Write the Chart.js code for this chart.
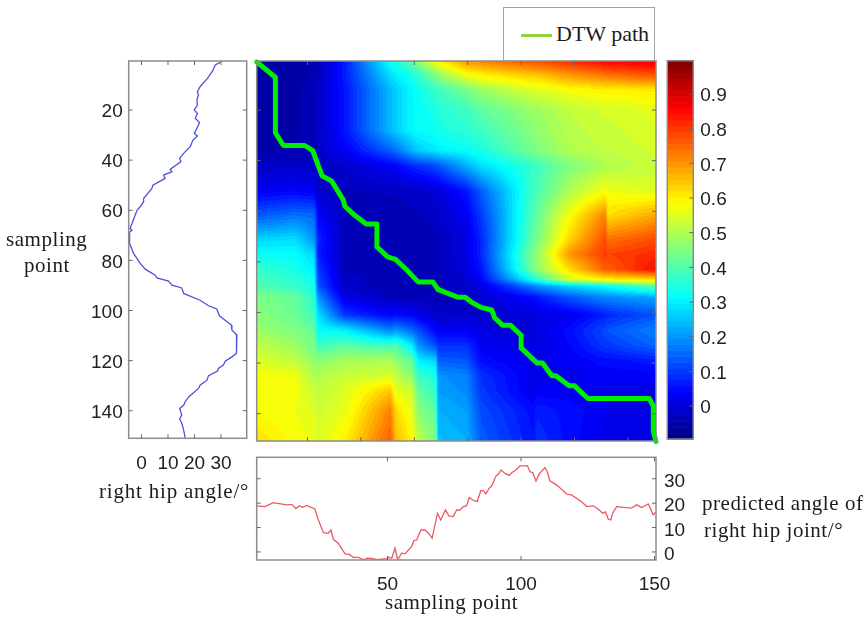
<!DOCTYPE html>
<html>
<head>
<meta charset="utf-8">
<script src="https://cdn.jsdelivr.net/npm/chart.js@4"></script>
<style>
html,body{margin:0;padding:0;background:#fff;width:865px;height:617px;overflow:hidden}
#stage{position:absolute;left:0;top:0;width:865px;height:617px;filter:blur(0.35px)}
canvas{position:absolute;left:0;top:0}
.t{position:absolute;font-family:"Liberation Serif",serif;font-size:21px;color:#1c1c1c;white-space:nowrap;line-height:24px;letter-spacing:.55px}
#legend{position:absolute;left:503px;top:7px;width:150px;height:52px;border:1px solid #a4a4a4;background:#fff}
#legend i{position:absolute;left:17px;top:26px;width:31px;height:3px;background:#8ed43c}
#legend span{position:absolute;left:52px;top:14px;font-family:"Liberation Serif",serif;font-size:22px;color:#1c1c1c;white-space:nowrap;line-height:24px}
</style>
</head>
<body>
<div id="stage">
<canvas id="left" width="865" height="617"></canvas>
<canvas id="heat" width="865" height="617"></canvas>
<canvas id="bottom" width="865" height="617"></canvas>
<canvas id="bar" width="865" height="617"></canvas>
<div id="legend"><i></i><span>DTW path</span></div>
<div class="t" style="left:6px;top:227px">sampling</div>
<div class="t" style="left:24px;top:253px">point</div>
<div class="t" style="left:99px;top:479px;letter-spacing:.8px">right hip angle/°</div>
<div class="t" style="left:702px;top:491px">predicted angle of</div>
<div class="t" style="left:704px;top:518px">right hip joint/°</div>
<div class="t" style="left:385px;top:590px">sampling point</div>
</div>
<script>
// ---- data ----
const leftSample = [1,2,4.3,7.4,10.7,12.7,14,16,18,20,21.3,23.3,25,28,29.3,30.4,32,34.6,37.3,39.3,40.6,43.7,44.6,46,47.3,50,51.3,55.3,56.6,58.6,60,62,65.3,67.3,68,69,73.3,77.2,81.2,83.5,85.9,87,88.3,89.9,91,93.2,95.9,98.1,99.4,102.1,105.8,107.8,109.8,113.1,117.1,118.5,120.2,121.8,123.1,124.2,126,127.8,129.8,131.1,134.5,136.4,137.8,139.1,141.7,143.3,145,147.7,150.8];
const leftAngle = [29.7,27.8,26.9,24.9,22.1,21.1,21.5,20.9,21.1,19.9,21.1,20.3,21.9,20.6,19.9,21.1,19.4,18.4,15.9,14.4,14.9,10.8,11.5,8.3,8.9,4.3,3.9,0.8,0.8,-0.5,-1.7,-2.4,-3.6,-4.3,-3.6,-4.7,-4.5,-3,-0.5,1.4,5.2,5.8,10.2,11.5,15.2,15.9,22.1,25.3,28.4,29.4,33.9,34.1,36,35.7,36,34.1,31.6,30.9,29,28.7,25.3,24.7,22.1,21.5,17.8,16.5,15.9,14.4,15.2,14.4,15.2,15.9,16.5];

const bottomSample = [1,4.1,7.2,12.2,14.1,15.7,17,18.2,19.7,22.8,24.1,26,27.8,28.8,29.7,31.6,34.1,35.7,37.2,39.1,41,42.5,44.7,46,50,50.3,51.6,52.8,53.8,55.3,56.5,59,59.9,60.9,62.5,64,65.2,66.7,68.7,69.9,71.7,73,74.6,75.9,77.1,78.4,79.6,80.6,81.9,83.6,84.9,85.9,86.8,88.1,89,90.6,91.5,92.5,94,95.6,96.5,98.1,99.6,102.4,103.4,104.4,105.6,106.8,109,109.8,110.8,113.3,117.3,118.9,122.7,124.6,127.1,128.9,130.6,131.6,132.7,133.6,134.3,135.8,138.3,141.4,143.3,145.2,147.7,149.5,150.4];
const bottomAngle = [18.9,18.6,20.2,19.3,19.5,17.8,18.9,18.3,19.1,17.6,13.1,7.9,7.6,9,5.2,3.5,-0.8,-1,-2.2,-2.2,-3.2,-2.5,-2.7,-3.2,-2.7,-2.2,-2.6,1.5,-3.2,-0.5,-0.8,2.2,4.7,4.9,9,9,7.9,5.6,15.9,13.1,17.2,14.8,14.5,17.2,17.2,18.6,18.9,22.3,21.3,20.6,25.1,25.1,23.8,26.1,27,31.1,31.8,33.6,32.2,31.4,32.5,33.6,35.3,35.3,32.9,32.5,29.1,32,34.6,32.9,29.2,27.5,23.6,23.4,20.6,18.6,18.9,17.5,15.9,16.4,13.4,13.1,15.9,18.6,18.3,18,19.3,18.2,19.7,15.2,16.3];

const pathRef = [1,8,8,11,19,22,23,25.5,29,33.4,34,37,42,46,46,50,53,57,61.5,67,69,76.5,79,81.5,85,89,90,93,96,100,100,106,108,111.5,113,118,120,125,148,149.5,149.5,150.5];
const pathTest = [1,7,29,34,34,36,39,46,48,55.5,58,61,65,65,74,78,79,83,88,88,91,94,94,96,98,99,102,105,105,109,114,120,120,125,125,129,129,134,134,137,147,151];

const heatX = [1,15.3,22.5,24,34,51,53,59,61.5,68,69,79.5,85,104.5,106,118,131.5,132.5,150.5];
const heatY = [0.6,6,12,20,28,36,42,52,61.5,71,77,83,87,89.5,94,101,107,113,119,125,131,138.5,150.8];
const heatValues = [
[-.06,-.055,-.04,-.03,.07,.33,.34,.42,.47,.58,.6,.7,.72,.78,.78,.82,.86,.87,.88],
[-.06,-.055,-.04,-.03,.07,.28,.3,.34,.37,.45,.47,.58,.6,.65,.65,.7,.74,.74,.78],
[-.06,-.05,-.03,-.02,.06,.24,.26,.31,.33,.37,.38,.44,.48,.55,.55,.58,.6,.6,.61],
[-.06,-.05,-.03,-.02,.06,.24,.26,.31,.32,.34,.35,.38,.41,.48,.48,.52,.54,.54,.56],
[-.06,-.05,-.03,-.02,.06,.24,.26,.31,.32,.33,.34,.36,.38,.46,.47,.51,.53,.53,.55],
[-.05,-.04,-.03,-.02,.03,.14,.16,.23,.26,.29,.3,.32,.34,.44,.45,.5,.52,.52,.54],
[-.02,-.02,-.02,-.02,-.01,.03,.04,.08,.09,.12,.13,.23,.28,.37,.38,.45,.5,.5,.53],
[.03,.04,.03,-.01,-.03,-.025,-.025,-.02,-.02,0,0,.06,.14,.38,.39,.5,.58,.57,.55],
[.13,.16,.15,.04,-.03,-.035,-.035,-.03,-.03,-.02,-.02,.03,.1,.4,.42,.58,.72,.62,.68],
[.27,.28,.2,.08,-.03,-.035,-.035,-.035,-.035,-.03,-.03,.01,.08,.42,.44,.63,.78,.74,.78],
[.32,.32,.27,.07,-.03,-.035,-.035,-.035,-.035,-.03,-.03,.01,.08,.45,.47,.7,.8,.79,.82],
[.37,.34,.3,.1,-.03,-.035,-.035,-.035,-.035,-.03,-.03,0,.06,.44,.47,.62,.76,.76,.85],
[.39,.36,.33,.12,-.02,-.035,-.035,-.035,-.035,-.03,-.03,-.01,.04,.33,.36,.54,.6,.6,.62],
[.4,.37,.34,.13,-.02,-.035,-.035,-.035,-.035,-.03,-.03,-.02,.01,.18,.2,.27,.32,.33,.42],
[.45,.42,.36,.2,.01,-.03,-.03,-.035,-.035,-.035,-.035,-.02,-.01,.05,.06,.13,.19,.19,.22],
[.46,.43,.38,.28,.1,.04,.05,.04,.02,-.01,-.02,-.01,-.01,0,.01,.02,.07,.08,.13],
[.48,.45,.42,.32,.3,.18,.2,.15,.12,.04,.03,.03,.01,0,.01,.05,.12,.13,.18],
[.52,.48,.44,.38,.41,.38,.4,.3,.2,.12,.09,.09,.03,.01,.01,.04,.1,.1,.15],
[.55,.52,.47,.46,.49,.5,.47,.42,.3,.27,.14,.13,.05,.02,.02,.03,.05,.05,.07],
[.58,.57,.5,.5,.53,.54,.52,.46,.38,.34,.2,.18,.09,.02,.02,.02,.03,.03,.03],
[.58,.58,.53,.52,.55,.65,.56,.54,.42,.37,.21,.19,.1,.02,.03,.03,.02,.02,.02],
[.58,.57,.55,.53,.56,.72,.63,.56,.46,.41,.23,.21,.12,.05,.07,.05,.03,.02,.02],
[.62,.58,.57,.55,.6,.76,.66,.6,.52,.45,.25,.23,.14,.06,.09,.05,.02,.01,.01]
];

const sampleTicks = [20,40,60,80,100,120,140];
const leftXTicks = [0,10,20,30];
const bottomXTicks = [50,100,150];
const bottomYTicks = [0,10,20,30];
const barTicks = [0,0.1,0.2,0.3,0.4,0.5,0.6,0.7,0.8,0.9];
const colorMin = -0.095, colorMax = 0.996;

// ---- helpers ----
const FONT = {family:'"Liberation Sans",Arial,sans-serif', size:19};
const TICK = '#222222', FRAME = '#8c8c8c';
function clamp(v){return Math.max(0,Math.min(1,v));}
function jet(v){
  let t = clamp((v-colorMin)/(colorMax-colorMin));
  t = (Math.min(63,Math.floor(t*64))+0.5)/64;
  return [clamp(1.5-Math.abs(4*t-3))*255, clamp(1.5-Math.abs(4*t-2))*255, clamp(1.5-Math.abs(4*t-1))*255];
}
function axis(extra, ticks, size, pad, showLabels, labelOffset){
  return Object.assign({
    type:'linear',
    grid:{display:false,drawTicks:false},
    border:{display:false},
    ticks:{display:showLabels,color:TICK,font:FONT,padding:pad,labelOffset:labelOffset||0,autoSkip:false,maxRotation:0,minRotation:0,callback:v=>String(v)},
    afterBuildTicks:s=>{s.ticks=ticks.map(value=>({value}));},
    afterFit:s=>{
      if(s.isHorizontal()) s.height=size; else s.width=size;
      s.paddingLeft=s.paddingRight=s.paddingTop=s.paddingBottom=0;
    }
  },extra);
}
function framePlugin(xt,yt,bothSides){
  return {id:'frame',afterDraw(c){
    const {left,right,top,bottom}=c.chartArea, g=c.ctx, L=4;
    g.save();g.strokeStyle=FRAME;g.lineWidth=1.5;
    g.strokeRect(left,top,right-left,bottom-top);
    g.lineWidth=1;g.strokeStyle='#666';g.beginPath();
    xt.forEach(v=>{const p=c.scales.x.getPixelForValue(v);g.moveTo(p,bottom);g.lineTo(p,bottom-L);g.moveTo(p,top);g.lineTo(p,top+L);});
    yt.forEach(v=>{const p=c.scales.y.getPixelForValue(v);g.moveTo(right,p);g.lineTo(right-L,p);if(bothSides){g.moveTo(left,p);g.lineTo(left+L,p);}});
    g.stroke();g.restore();
  }};
}
function baseOptions(pad,scales){
  return {responsive:false,animation:false,events:[],layout:{padding:pad},
    plugins:{legend:{display:false},tooltip:{enabled:false}},scales};
}
function pairs(xs,ys){return xs.map((x,i)=>({x,y:ys[i]}));}
function locate(arr,v){
  let i=0;while(i<arr.length-2&&v>arr[i+1])i++;
  return [i,clamp((v-arr[i])/(arr[i+1]-arr[i]))];
}
const heatPlugin={id:'heatCells',beforeDatasetsDraw(c){
  const a=c.chartArea,x0=Math.floor(a.left),y0=Math.floor(a.top),w=Math.ceil(a.right)-x0,h=Math.ceil(a.bottom)-y0;
  const off=document.createElement('canvas');off.width=w;off.height=h;
  const g=off.getContext('2d'),img=g.createImageData(w,h);
  const cols=[],rows=[];
  for(let i=0;i<w;i++)cols.push(locate(heatX,c.scales.x.getValueForPixel(x0+i+.5)));
  for(let j=0;j<h;j++)rows.push(locate(heatY,c.scales.y.getValueForPixel(y0+j+.5)));
  for(let j=0;j<h;j++){const [r,fr]=rows[j];
    for(let i=0;i<w;i++){const [k,fc]=cols[i];
      const v=(heatValues[r][k]*(1-fc)+heatValues[r][k+1]*fc)*(1-fr)+(heatValues[r+1][k]*(1-fc)+heatValues[r+1][k+1]*fc)*fr;
      const col=jet(v),o=(j*w+i)*4;
      img.data[o]=col[0];img.data[o+1]=col[1];img.data[o+2]=col[2];img.data[o+3]=255;
    }}
  g.putImageData(img,0,0);
  c.ctx.save();c.ctx.beginPath();c.ctx.rect(a.left,a.top,a.right-a.left,a.bottom-a.top);c.ctx.clip();
  c.ctx.drawImage(off,x0,y0);c.ctx.restore();
}};
const barPlugin={id:'colorLevels',beforeDatasetsDraw(c){
  const a=c.chartArea,g=c.ctx,n=64;
  for(let i=0;i<n;i++){
    const lo=colorMin+(colorMax-colorMin)*i/n,hi=colorMin+(colorMax-colorMin)*(i+1)/n;
    const col=jet((lo+hi)/2);
    const yt=c.scales.y.getPixelForValue(hi),yb=c.scales.y.getPixelForValue(lo);
    g.fillStyle='rgb('+col.map(Math.round).join(',')+')';
    g.fillRect(a.left,yt,a.right-a.left,yb-yt+0.6);
  }
}};

// ---- left: right hip angle ----
new Chart(document.getElementById('left'),{type:'scatter',
  data:{datasets:[{label:'right hip angle',data:pairs(leftAngle,leftSample),showLine:true,borderColor:'#5050dc',borderWidth:1.3,pointRadius:0,tension:0}]},
  options:baseOptions({left:128.7-45,top:61,right:865-246.7,bottom:617-438.3-40},{
    x:axis({position:'bottom',min:-4.83,max:39.7},leftXTicks,40,14,true),
    y:axis({position:'left',reverse:true,min:0.44,max:151},sampleTicks,45,6,true,2)
  }),
  plugins:[framePlugin(leftXTicks,sampleTicks,true)]
});

// ---- centre: distance matrix with DTW path ----
new Chart(document.getElementById('heat'),{type:'scatter',
  data:{datasets:[{label:'DTW path',data:pairs(pathRef,pathTest),showLine:true,borderColor:'#00ee00',borderWidth:5,borderJoinStyle:'round',borderCapStyle:'round',pointRadius:0,tension:0,clip:false}]},
  options:baseOptions({left:256.7,top:61,right:865-656,bottom:617-441},{
    x:axis({position:'bottom',min:1,max:150.5},[20,40,60,80,100,120,140],0,0,false),
    y:axis({position:'left',reverse:true,min:0.6,max:150.8},sampleTicks,0,0,false)
  }),
  plugins:[heatPlugin,framePlugin([20,40,60,80,100,120,140],sampleTicks,true)]
});

// ---- bottom: predicted angle ----
new Chart(document.getElementById('bottom'),{type:'scatter',
  data:{datasets:[{label:'predicted angle of right hip joint',data:pairs(bottomSample,bottomAngle),showLine:true,borderColor:'#ea5a64',borderWidth:1.3,pointRadius:0,tension:0}]},
  options:baseOptions({left:256.7,top:457.3,right:865-656-40,bottom:617-560-40},{
    x:axis({position:'bottom',min:1,max:150.55},bottomXTicks,40,13,true),
    y:axis({position:'right',min:-3.3,max:38.8},bottomYTicks,40,8,true,3)
  }),
  plugins:[framePlugin(bottomXTicks,bottomYTicks,true)]
});

// ---- colour bar ----
new Chart(document.getElementById('bar'),{type:'scatter',
  data:{datasets:[{label:'colour scale',data:[]}]},
  options:baseOptions({left:667.3,top:60.7,right:865-693.3-40,bottom:617-439},{
    x:axis({position:'bottom',min:0,max:1},[],0,0,false),
    y:axis({position:'right',min:colorMin,max:colorMax},barTicks,40,7,true,2)
  }),
  plugins:[barPlugin,framePlugin([],barTicks,false)]
});
</script>
</body>
</html>
